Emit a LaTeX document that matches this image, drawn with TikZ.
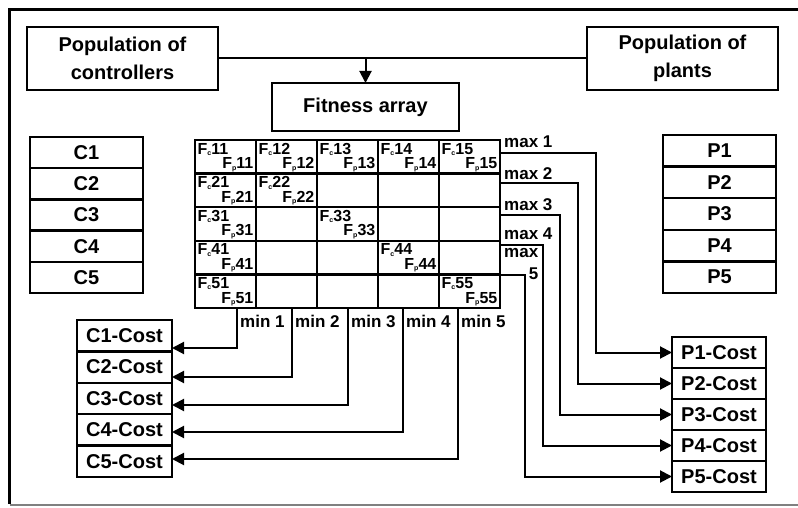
\documentclass[tikz,border=0pt]{standalone}
\usepackage{fontspec}
\setmainfont{Liberation Sans}
\usepackage{tikz}
\usetikzlibrary{arrows.meta}
\tikzstyle{box} = [draw=black, line width=2.5pt, rectangle, inner sep=0pt, outer sep=0pt]
\tikzstyle{cell} = [draw=black, line width=2.5pt, minimum width=61pt, minimum height=33.6pt, inner sep=0pt, outer sep=0pt]
\tikzstyle{arrow} = [line width=2pt, -{Triangle[length=12pt,width=12pt]}]
\tikzstyle{link} = [line width=2pt]
\tikzstyle{lbl} = [inner sep=0pt, font=\bfseries\fontsize{17}{20}\selectfont]
\tikzstyle{ftop} = [inner sep=0pt, anchor=base west, xshift=2.5pt, yshift=-14pt, font=\bfseries\fontsize{16}{17}\selectfont]
\tikzstyle{fbot} = [inner sep=0pt, anchor=base east, xshift=-2.5pt, yshift=5pt, font=\bfseries\fontsize{16}{17}\selectfont]
\newcommand{\Fsub}[1]{F\raisebox{-1.5pt}{\fontsize{7}{7}\selectfont #1}}

\begin{document}
\begin{tikzpicture}[x=1pt, y=-1pt, font=\bfseries\fontsize{20}{28}\selectfont]
        % Bounding box
        \useasboundingbox (0,0) rectangle (798,508);

        % Frame
        \draw[line width=3pt] (798,9.5) -- (9.5,9.5) -- (9.5,504);
        \draw[gray, line width=1.5pt] (9.5,505) -- (798,505);

        % Populations and fitness array
        \node[box, minimum width=191pt, minimum height=63pt, align=center] (ctrl)   at (122.5,58.5) {Population of\\controllers};
        \node[box, minimum width=191pt, minimum height=63pt, align=center] (plants) at (682.5,58.5) {Population of\\plants};
        \node[box, minimum width=187pt, minimum height=48pt] (fitness) at (365.5,107) {Fitness array};

        \draw[link]  (ctrl.east) -- (plants.west);
        \draw[arrow] (ctrl.east -| fitness.north) -- (fitness.north);

        % Controllers and plants
        \foreach \k in {1,...,5} {
            \node[box, minimum width=113pt, minimum height=31.2pt] (c\k) at (86.5,{137+31.2*(\k-0.5)}) {C\k};
            \node[box, minimum width=113pt, minimum height=31.6pt] (p\k) at (719.5,{135+31.6*(\k-0.5)}) {P\k};
        }

        % Fitness matrix
        \foreach \r in {1,...,5}
            \foreach \c in {1,...,5}
                \node[cell] (cell-\r-\c) at ({195+61*(\c-0.5)},{140+33.6*(\r-0.5)}) {};

        \foreach \c in {1,...,5} {
            \node[ftop] (fc-1-\c) at (cell-1-\c.north west) {\Fsub{c}1\c};
            \node[fbot] (fp-1-\c) at (cell-1-\c.south east) {\Fsub{p}1\c};
        }
        \foreach \r in {2,...,5} {
            \node[ftop] (fc-\r-1) at (cell-\r-1.north west) {\Fsub{c}\r1};
            \node[fbot] (fp-\r-1) at (cell-\r-1.south east) {\Fsub{p}\r1};
            \node[ftop] (fc-\r-\r) at (cell-\r-\r.north west) {\Fsub{c}\r\r};
            \node[fbot] (fp-\r-\r) at (cell-\r-\r.south east) {\Fsub{p}\r\r};
        }

        % Cost boxes
        \foreach \k in {1,...,5} {
            \node[box, minimum width=95pt, minimum height=31.4pt] (ccost\k) at (124.5,{320+31.4*(\k-0.5)}) {C\k-Cost};
            \node[box, minimum width=94pt, minimum height=31pt] (pcost\k) at (719,{337+31*(\k-0.5)}) {P\k-Cost};
        }

        % Max of each row -> plant cost
        \coordinate (max1) at (596,153);
        \coordinate (max2) at (578,183);
        \coordinate (max3) at (560,215);
        \coordinate (max4) at (543,245);
        \coordinate (max5) at (525,275);
        \draw[arrow] (max1 -| cell-1-5.east) -- (max1) |- (pcost1.west);
        \draw[arrow] (max2 -| cell-1-5.east) -- (max2) |- (pcost2.west);
        \draw[arrow] (max3 -| cell-1-5.east) -- (max3) |- (pcost3.west);
        \draw[arrow] (max4 -| cell-1-5.east) -- (max4) |- (pcost4.west);
        \draw[arrow] (max5 -| cell-1-5.east) -- (max5) |- (pcost5.west);

        \node[lbl, anchor=base west] (max-lbl-1) at (504,148) {max 1};
        \node[lbl, anchor=base west] (max-lbl-2) at (504,179) {max 2};
        \node[lbl, anchor=base west] (max-lbl-3) at (504,210) {max 3};
        \node[lbl, anchor=base west] (max-lbl-4) at (504,239) {max 4};
        \node[lbl, anchor=north west, align=right] (max-lbl-5) at (504,248) {max\\[2pt]5};

        % Min of each column -> controller cost
        \coordinate (min1) at (237,348);
        \coordinate (min2) at (292,377);
        \coordinate (min3) at (348,405);
        \coordinate (min4) at (403,432);
        \coordinate (min5) at (458,459);
        \draw[arrow] (min1 |- cell-5-1.south) -- (min1) -- (min1 -| ccost1.east);
        \draw[arrow] (min2 |- cell-5-1.south) -- (min2) -- (min2 -| ccost2.east);
        \draw[arrow] (min3 |- cell-5-1.south) -- (min3) -- (min3 -| ccost3.east);
        \draw[arrow] (min4 |- cell-5-1.south) -- (min4) -- (min4 -| ccost4.east);
        \draw[arrow] (min5 |- cell-5-1.south) -- (min5) -- (min5 -| ccost5.east);

        \node[lbl, anchor=base west] (min-lbl-1) at (240,327) {min 1};
        \node[lbl, anchor=base west] (min-lbl-2) at (295,327) {min 2};
        \node[lbl, anchor=base west] (min-lbl-3) at (351,327) {min 3};
        \node[lbl, anchor=base west] (min-lbl-4) at (406,327) {min 4};
        \node[lbl, anchor=base west] (min-lbl-5) at (461,327) {min 5};

    \end{tikzpicture}
\end{document}
